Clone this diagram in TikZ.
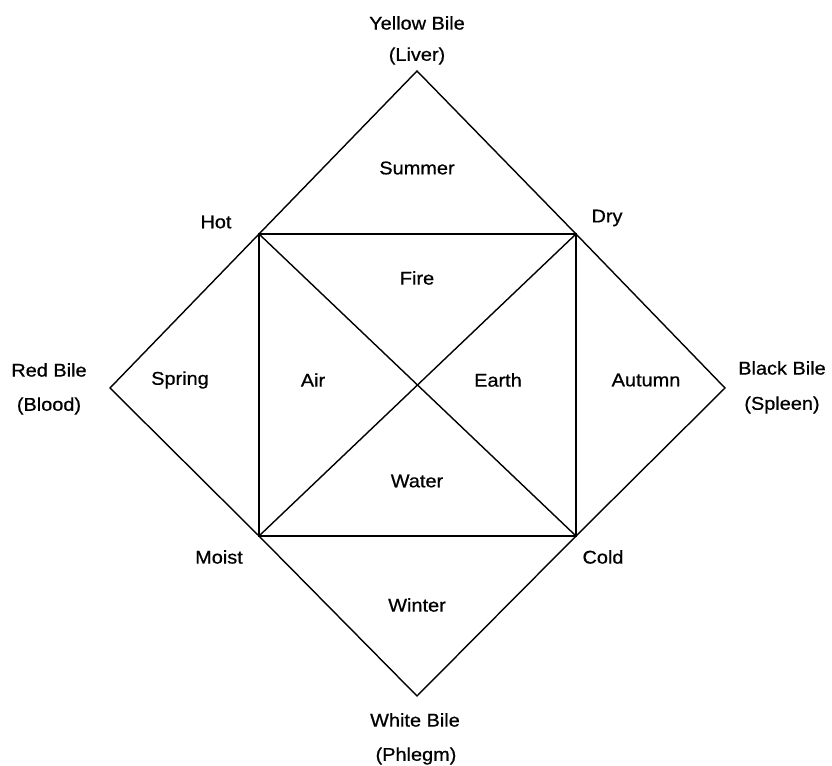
\documentclass[tikz,border=0pt]{standalone}
\usepackage{fontspec}
\setmainfont[FakeStretch=1.08, FakeBold=0.7]{Liberation Sans}
\usepackage{tikz}
\usetikzlibrary{calc}

\begin{document}
\begin{tikzpicture}[x=0.02cm, y=-0.02cm, line width=0.8pt,
    every node/.style={font=\fontsize{10.5}{12}\selectfont, inner sep=0pt}]
    \useasboundingbox (0, 0) rectangle (832, 766);

    \coordinate (Top) at (417, 71);
    \coordinate (Right) at (725, 388);
    \coordinate (Bottom) at (417, 696);
    \coordinate (Left) at (110, 388);

    \coordinate (Hot) at (259, 234);
    \coordinate (Dry) at (576, 234);
    \coordinate (Cold) at (576, 536);
    \coordinate (Moist) at (259, 536);

    \draw (Top) -- (Dry) -- (Right) -- (Cold) -- (Bottom) -- (Moist) -- (Left) -- (Hot) -- cycle;
    \draw (Hot) -- (Dry) -- (Cold) -- (Moist) -- cycle;
    \draw (Hot) -- (Cold);
    \draw (Dry) -- (Moist);

    \node (yellow) at (417, 23) {Yellow Bile};
    \node (liver) at (417, 56) {(Liver)};
    \node (red) at (49, 370) {Red Bile};
    \node (blood) at (49, 406) {(Blood)};
    \node (black) at (782, 368) {Black Bile};
    \node (spleen) at (782, 405) {(Spleen)};
    \node (white) at (415, 720) {White Bile};
    \node (phlegm) at (416, 756) {(Phlegm)};

    \node (hotlbl) at (216, 222) {Hot};
    \node (drylbl) at (607, 218) {Dry};
    \node (moistlbl) at (219, 557) {Moist};
    \node (coldlbl) at (603, 557) {Cold};

    \node (summer) at (417, 168) {Summer};
    \node (spring) at (180, 380) {Spring};
    \node (autumn) at (646, 380) {Autumn};
    \node (winter) at (417, 605) {Winter};

    \node (fire) at (417, 278) {Fire};
    \node (air) at (313, 380) {Air};
    \node (earth) at (498, 380) {Earth};
    \node (water) at (417, 481) {Water};
\end{tikzpicture}
\end{document}
